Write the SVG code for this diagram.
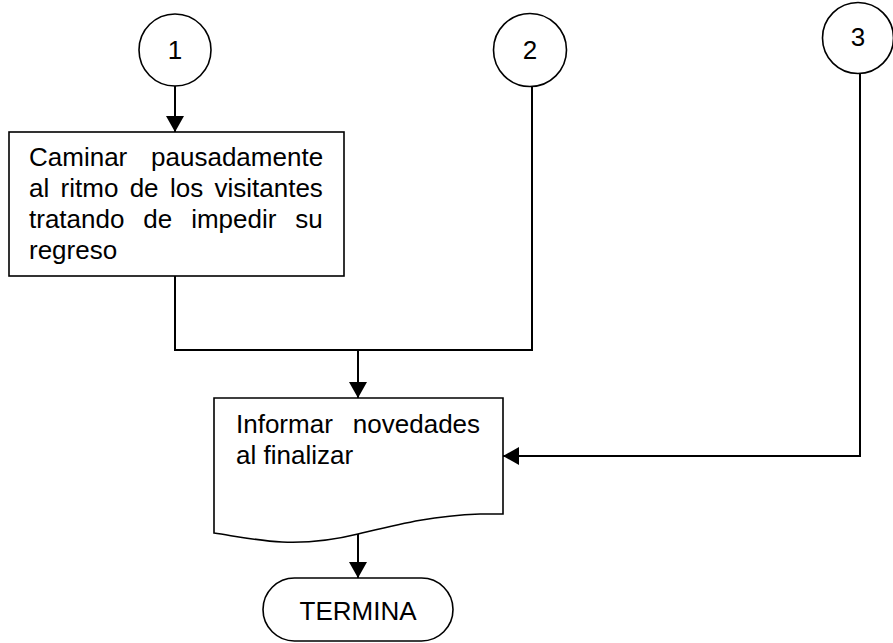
<svg xmlns="http://www.w3.org/2000/svg" width="893" height="643" viewBox="0 0 893 643">
<style>
.shape{fill:#fff;stroke:#000;stroke-width:1.6}
.conn{fill:none;stroke:#000;stroke-width:2}
text{font-family:"Liberation Sans",Arial,sans-serif;font-size:26px;fill:#000}
.c{text-anchor:middle}
</style>
<defs>
<marker id="a" viewBox="0 0 16 18" refX="16" refY="9" markerWidth="16" markerHeight="18" markerUnits="userSpaceOnUse" orient="auto">
<path d="M0,0 L16,9 L0,18 Z" fill="#000"/>
</marker>
</defs>
<g id="connectors">
<path class="conn" d="M175,86 V132" marker-end="url(#a)"/>
<path class="conn" d="M175,276 V350 H533"/>
<path class="conn" d="M532,87 V350"/>
<path class="conn" d="M358,350 V398" marker-end="url(#a)"/>
<path class="conn" d="M860,74 V456 H503" marker-end="url(#a)"/>
<path class="conn" d="M358,534 V578" marker-end="url(#a)"/>
</g>
<g id="c1">
<circle class="shape" cx="175" cy="50" r="36"/>
<text class="c" x="175" y="59">1</text>
</g>
<g id="c2">
<circle class="shape" cx="530" cy="50" r="36.5"/>
<text class="c" x="530" y="59">2</text>
</g>
<g id="c3">
<circle class="shape" cx="858" cy="38" r="35.5"/>
<text class="c" x="858" y="46">3</text>
</g>
<g id="box1">
<rect class="shape" x="9" y="132" width="335" height="144"/>
<text x="29" y="166" word-spacing="16.6">Caminar pausadamente</text>
<text x="29" y="197" word-spacing="4.1">al ritmo de los visitantes</text>
<text x="29" y="228" word-spacing="11.7">tratando de impedir su</text>
<text x="29" y="259">regreso</text>
</g>
<g id="box2">
<path class="shape" d="M214,398 H503 V514 L480,514 C430,516 400,524 358,534 C330,541 305,543 282,542 C260,541 240,537 214,533 Z"/>
<text x="236" y="433" word-spacing="12.8">Informar novedades</text>
<text x="236" y="464">al finalizar</text>
</g>
<g id="end">
<rect class="shape" x="263" y="578" width="190" height="63" rx="31.5"/>
<text class="c" x="358" y="620">TERMINA</text>
</g>
</svg>
